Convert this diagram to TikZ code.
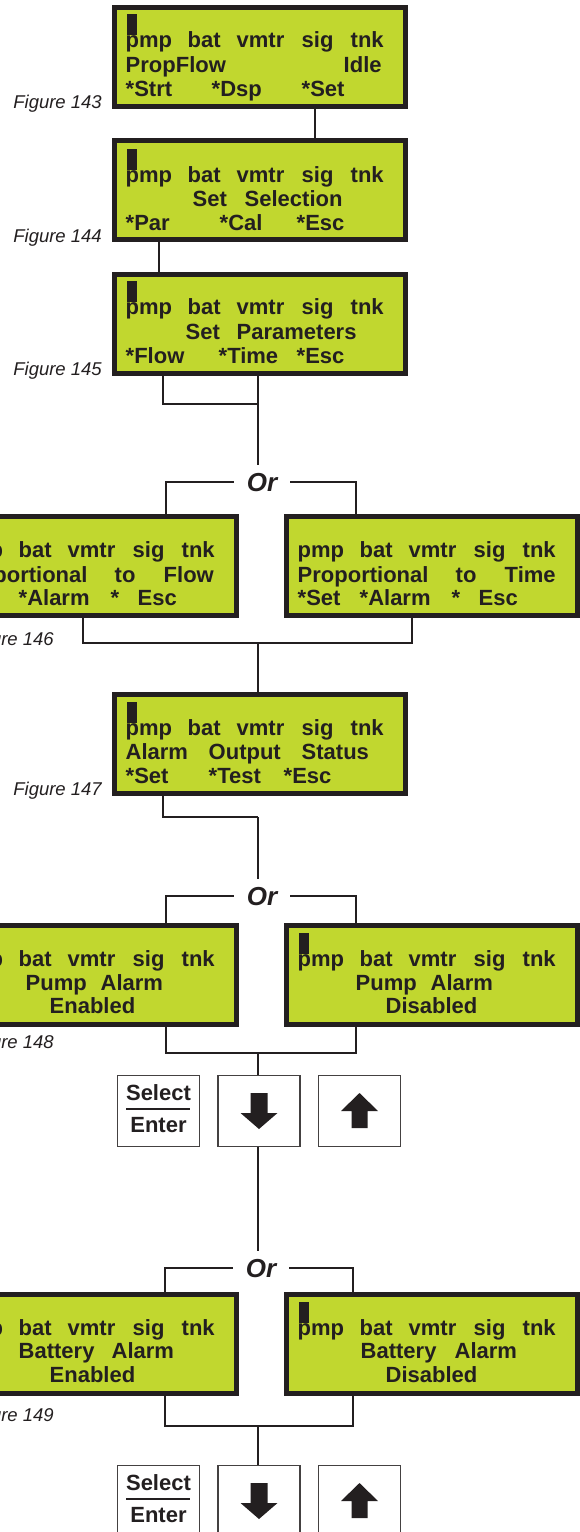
\documentclass[tikz,border=0pt]{standalone}
\usepackage{fontspec}
\setmainfont{Liberation Sans}
\definecolor{lcdgreen}{RGB}{193,215,47}
\definecolor{ink}{RGB}{35,31,32}
\newcommand\lw[4]{\node[txt] (#1) at (#2,#3) {#4};}
\newcommand\lcdstat[3]{%
  \node[txt] (#1a) at (#2,#3) {pmp};
  \node[txt] (#1b) at ({#2+62},#3) {bat};
  \node[txt] (#1c) at ({#2+111},#3) {vmtr};
  \node[txt] (#1d) at ({#2+176},#3) {sig};
  \node[txt] (#1e) at ({#2+225},#3) {tnk};}
\begin{document}
\begin{tikzpicture}[x=1pt,y=-1pt,
  lcd/.style={draw=ink,line width=5pt,fill=lcdgreen,minimum width=291pt,minimum height=99pt,inner sep=0pt},
  conn/.style={draw=ink,line width=1.6pt},
  txt/.style={font=\fontsize{22}{24}\selectfont\bfseries,text=ink,inner sep=0pt,anchor=base west,xshift=-1.5pt},
  figlab/.style={font=\fontsize{18.5}{20}\selectfont\itshape,text=ink,inner sep=0pt,anchor=base east},
  orlab/.style={font=\fontsize{26}{28}\selectfont\bfseries\itshape,text=ink,inner xsep=13pt,inner ysep=8pt,anchor=base},
  keybox/.style={draw=ink!85,line width=1.2pt,minimum width=82pt,minimum height=70.8pt,inner sep=0pt,fill=white},
  keytxt/.style={font=\fontsize{22}{24}\selectfont\bfseries,text=ink,inner sep=0pt,anchor=base},
  cursor/.style={fill=ink}]
\useasboundingbox (0,0) rectangle (580,1532);
\fill[white] (0,0) rectangle (580,1532);

% ---------- LCD boxes ----------
\node[lcd] (b143) at (260,56.5) {};
\node[lcd] (b144) at (260,189.5) {};
\node[lcd] (b145) at (260,323.5) {};
\node[lcd] (b146l) at (91,565.5) {};
\node[lcd] (b146r) at (432,565.5) {};
\node[lcd] (b147) at (260,743.5) {};
\node[lcd] (b148l) at (91,974.5) {};
\node[lcd] (b148r) at (432,974.5) {};
\node[lcd] (b149l) at (91,1344) {};
\node[lcd] (b149r) at (432,1344) {};

% cursors
\fill[cursor] (127,14) rectangle (137,35);
\fill[cursor] (127,149) rectangle (137,170);
\fill[cursor] (127,281) rectangle (137,302);
\fill[cursor] (127,702) rectangle (137,723);
\fill[cursor] (299,933) rectangle (309,954);
\fill[cursor] (299,1302) rectangle (309,1323);

% box 143
\lcdstat{s143}{127}{47}
\lw{t143a}{127}{72}{PropFlow}
\lw{t143b}{345}{72}{Idle}
\lw{t143c}{127}{96}{*Strt}
\lw{t143d}{213}{96}{*Dsp}
\lw{t143e}{303}{96}{*Set}
% box 144
\lcdstat{s144}{127}{182}
\lw{t144a}{194}{206}{Set}
\lw{t144b}{246}{206}{Selection}
\lw{t144c}{127}{230}{*Par}
\lw{t144d}{221}{230}{*Cal}
\lw{t144e}{298}{230}{*Esc}
% box 145
\lcdstat{s145}{127}{314}
\lw{t145a}{187}{339}{Set}
\lw{t145b}{238}{339}{Parameters}
\lw{t145c}{127}{363}{*Flow}
\lw{t145d}{220}{363}{*Time}
\lw{t145e}{298}{363}{*Esc}
% box 146 left
\lcdstat{s146l}{-42}{557}
\lw{t146la}{-42}{582}{Proportional}
\lw{t146lb}{116}{582}{to}
\lw{t146lc}{165}{582}{Flow}
\lw{t146ld}{20}{605}{*Alarm}
\lw{t146le}{112}{605}{*}
\lw{t146lf}{139}{605}{Esc}
% box 146 right
\lcdstat{s146r}{299}{557}
\lw{t146ra}{299}{582}{Proportional}
\lw{t146rb}{457}{582}{to}
\lw{t146rc}{506}{582}{Time}
\lw{t146rd}{299}{605}{*Set}
\lw{t146re}{361}{605}{*Alarm}
\lw{t146rf}{453}{605}{*}
\lw{t146rg}{480}{605}{Esc}
% box 147
\lcdstat{s147}{127}{735}
\lw{t147a}{127}{759}{Alarm}
\lw{t147b}{210}{759}{Output}
\lw{t147c}{303}{759}{Status}
\lw{t147d}{127}{783}{*Set}
\lw{t147e}{210}{783}{*Test}
\lw{t147f}{285}{783}{*Esc}
% box 148 left
\lcdstat{s148l}{-42}{966}
\lw{t148la}{27}{990}{Pump}
\lw{t148lb}{102}{990}{Alarm}
\lw{t148lc}{51}{1013}{Enabled}
% box 148 right
\lcdstat{s148r}{299}{966}
\lw{t148ra}{357}{990}{Pump}
\lw{t148rb}{432}{990}{Alarm}
\lw{t148rc}{387}{1013}{Disabled}
% box 149 left
\lcdstat{s149l}{-42}{1335}
\lw{t149la}{20}{1358}{Battery}
\lw{t149lb}{113}{1358}{Alarm}
\lw{t149lc}{51}{1382}{Enabled}
% box 149 right
\lcdstat{s149r}{299}{1335}
\lw{t149ra}{362}{1358}{Battery}
\lw{t149rb}{456}{1358}{Alarm}
\lw{t149rc}{387}{1382}{Disabled}

% ---------- figure labels ----------
\node[figlab] (f143) at (102,108) {Figure 143};
\node[figlab] (f144) at (102,242) {Figure 144};
\node[figlab] (f145) at (102,375) {Figure 145};
\node[figlab] (f146) at (54,645) {Figure 146};
\node[figlab] (f147) at (102,795) {Figure 147};
\node[figlab] (f148) at (54,1048) {Figure 148};
\node[figlab] (f149) at (54,1421) {Figure 149};

% ---------- Or labels ----------
\node[orlab] (or1) at (262,491) {Or};
\node[orlab] (or2) at (262,905) {Or};
\node[orlab] (or3) at (261,1277) {Or};

% ---------- keys ----------
\node[keybox] (ksel1) at (158.5,1111) {};
\node[keybox] (kdown1) at (259,1111) {};
\node[keybox] (kup1) at (359.5,1111) {};
\node[keybox] (ksel2) at (158.5,1501) {};
\node[keybox] (kdown2) at (259,1501) {};
\node[keybox] (kup2) at (359.5,1501) {};
\node[keytxt] (sel1) at (158.5,1100) {Select};
\node[keytxt] (ent1) at (158.5,1132) {Enter};
\node[keytxt] (sel2) at (158.5,1490) {Select};
\node[keytxt] (ent2) at (158.5,1522) {Enter};
\draw[ink,line width=1.2pt] (126,1109) -- (190,1109);
\draw[ink,line width=1.2pt] (126,1499) -- (190,1499);
\fill[ink] (250.5,1093) -- (267.5,1093) -- (267.5,1113) -- (277.5,1113) -- (259,1129) -- (240.5,1113) -- (250.5,1113) -- cycle;
\fill[ink] (359.5,1093) -- (378,1111) -- (367.5,1111) -- (367.5,1128) -- (351.5,1128) -- (351.5,1111) -- (341,1111) -- cycle;
\fill[ink] (250.5,1483) -- (267.5,1483) -- (267.5,1503) -- (277.5,1503) -- (259,1519) -- (240.5,1503) -- (250.5,1503) -- cycle;
\fill[ink] (359.5,1483) -- (378,1501) -- (367.5,1501) -- (367.5,1518) -- (351.5,1518) -- (351.5,1501) -- (341,1501) -- cycle;

% ---------- connector coordinates ----------
\coordinate (xa) at (315,0);
\coordinate (xb) at (159,0);
\coordinate (xc) at (163,0);
\coordinate (xd) at (166,0);
\coordinate (xe) at (356,0);
\coordinate (xf) at (83,0);
\coordinate (xg) at (412,0);
\coordinate (xh) at (165,0);
\coordinate (xi) at (353,0);
\coordinate (j1) at (258,404);
\coordinate (j2) at (258,643);
\coordinate (j3) at (258,817);
\coordinate (j4) at (258,1053);
\coordinate (j5) at (258,1426);

% ---------- connectors ----------
\draw[conn] (b143.south -| xa) -- (b144.north -| xa);
\draw[conn] (b144.south -| xb) -- (b145.north -| xb);
\draw[conn] (b145.south -| xc) |- (j1);
\draw[conn] (b145.south -| j1) -- (or1.north -| j1);
\draw[conn] (or1.west) -| (b146l.north -| xd);
\draw[conn] (or1.east) -| (b146r.north -| xe);
\draw[conn] (b146l.south -| xf) |- (j2) -| (b146r.south -| xg);
\draw[conn] (j2) -- (b147.north -| j2);
\draw[conn] (b147.south -| xc) |- (j3);
\draw[conn] (j3) -- (or2.north -| j3);
\draw[conn] (or2.west) -| (b148l.north -| xd);
\draw[conn] (or2.east) -| (b148r.north -| xe);
\draw[conn] (b148l.south -| xd) |- (j4) -| (b148r.south -| xe);
\draw[conn] (j4) -- (kdown1.north -| j4);
\draw[conn] (kdown1.south -| j4) -- (or3.north -| j4);
\draw[conn] (or3.west) -| (b149l.north -| xh);
\draw[conn] (or3.east) -| (b149r.north -| xi);
\draw[conn] (b149l.south -| xh) |- (j5) -| (b149r.south -| xi);
\draw[conn] (j5) -- (kdown2.north -| j5);
\end{tikzpicture}
\end{document}
